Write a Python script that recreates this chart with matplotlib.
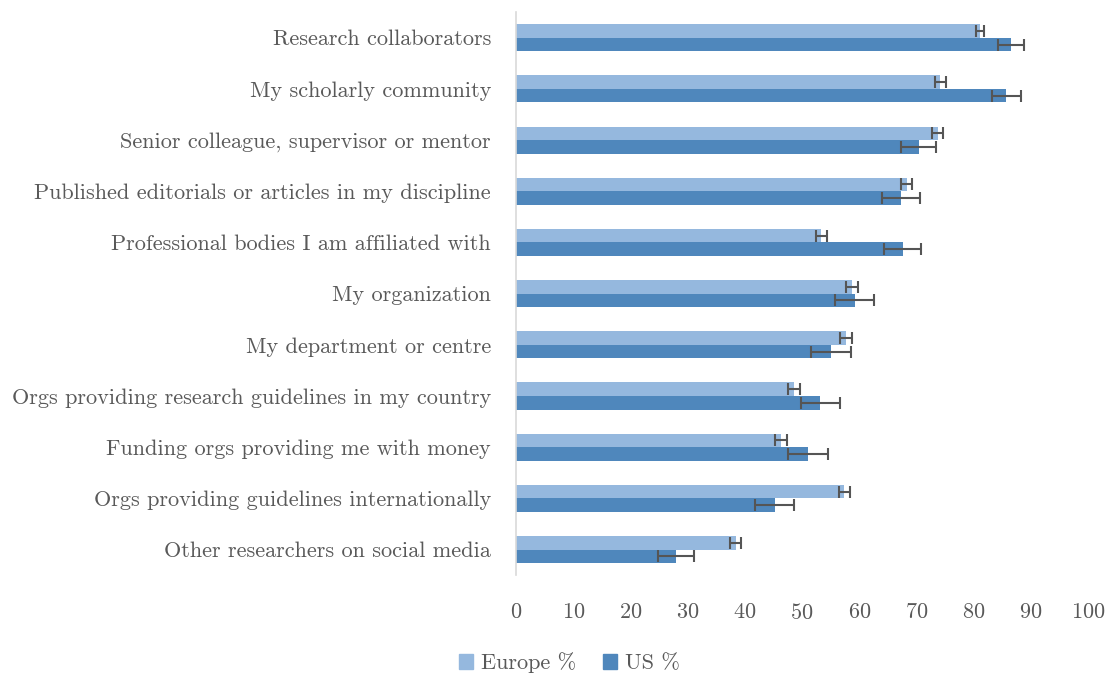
import numpy as np
import matplotlib.pyplot as plt
from matplotlib.patches import Patch

plt.rcParams['font.family'] = ['cmr10', 'DejaVu Serif']
plt.rcParams['axes.formatter.use_mathtext'] = True

categories = [
    'Research collaborators',
    'My scholarly community',
    'Senior colleague, supervisor or mentor',
    'Published editorials or articles in my discipline',
    'Professional bodies I am affiliated with',
    'My organization',
    'My department or centre',
    'Orgs providing research guidelines in my country',
    'Funding orgs providing me with money',
    'Orgs providing guidelines internationally',
    'Other researchers on social media',
]
europe = [81.1, 74.2, 73.7, 68.3, 53.4, 58.8, 57.7, 48.6, 46.4, 57.4, 38.4]
europe_err = [0.7, 0.9, 0.9, 1.0, 1.0, 1.05, 1.0, 1.05, 1.05, 0.95, 1.0]
us = [86.5, 85.7, 70.4, 67.3, 67.6, 59.2, 55.1, 53.2, 51.1, 45.2, 28.0]
us_err = [2.3, 2.5, 3.1, 3.3, 3.2, 3.4, 3.5, 3.4, 3.5, 3.4, 3.1]
xticks = [0, 10, 20, 30, 40, 50, 60, 70, 80, 90, 100]

c_eu = '#95b8de'
c_us = '#4f87bc'
c_txt = '#595959'

fig = plt.figure(figsize=(11.1, 6.75), dpi=100)
ax = fig.add_axes([0.4649, 0.148, 0.5153, 0.834])

y = np.arange(len(categories))
h = 0.265
ekw = dict(ecolor='#555555', elinewidth=1.5, capsize=4.5, capthick=1.5)
ax.barh(y - h / 2, europe, height=h, color=c_eu, xerr=europe_err, error_kw=ekw)
ax.barh(y + h / 2, us, height=h, color=c_us, xerr=us_err, error_kw=ekw)

ax.set_ylim(len(categories) - 0.5, -0.5)
ax.set_xlim(0, 100)
ax.set_yticks(y)
ax.set_yticklabels(categories)
ax.set_xticks(xticks)

for s in ['top', 'right', 'bottom']:
    ax.spines[s].set_visible(False)
ax.spines['left'].set_color('#d9d9d9')
ax.spines['left'].set_linewidth(1.2)
ax.tick_params(axis='both', length=0, labelsize=16, labelcolor=c_txt)
ax.tick_params(axis='x', pad=20)
ax.tick_params(axis='y', pad=18)

handles = [Patch(color=c_eu, label='Europe %'), Patch(color=c_us, label='US %')]
fig.legend(handles=handles, loc='center', bbox_to_anchor=(0.513, 0.018), ncol=2,
           frameon=False, fontsize=16, labelcolor=c_txt, handlelength=0.65,
           handleheight=0.65, handletextpad=0.35, columnspacing=1.2)

fig.savefig('out.png', dpi=100)
